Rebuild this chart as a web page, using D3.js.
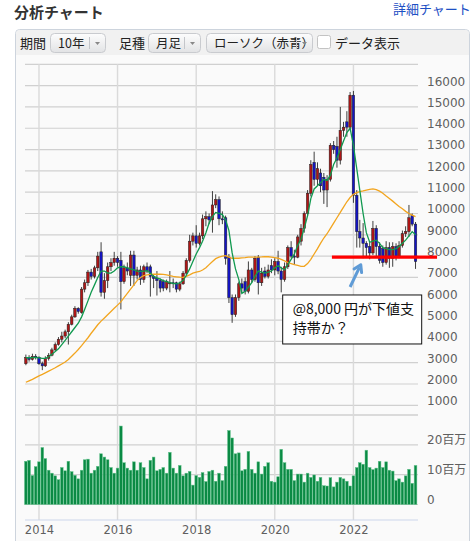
<!DOCTYPE html>
<html>
<head>
<meta charset="utf-8">
<script src="https://cdn.jsdelivr.net/npm/d3@7"></script>
<style>
  body { margin: 0; background: #fff; }
  svg { display: block; font-family: "Noto Sans CJK JP", "Noto Sans", sans-serif; }
</style>
</head>
<body>
<svg id="chart" width="473" height="541"></svg>
<script>
// monthly candles, Sep 2013 - Aug 2023
const months = [
  "2013-09","2013-10","2013-11","2013-12",
  "2014-01","2014-02","2014-03","2014-04","2014-05","2014-06","2014-07","2014-08","2014-09","2014-10","2014-11","2014-12",
  "2015-01","2015-02","2015-03","2015-04","2015-05","2015-06","2015-07","2015-08","2015-09","2015-10","2015-11","2015-12",
  "2016-01","2016-02","2016-03","2016-04","2016-05","2016-06","2016-07","2016-08","2016-09","2016-10","2016-11","2016-12",
  "2017-01","2017-02","2017-03","2017-04","2017-05","2017-06","2017-07","2017-08","2017-09","2017-10","2017-11","2017-12",
  "2018-01","2018-02","2018-03","2018-04","2018-05","2018-06","2018-07","2018-08","2018-09","2018-10","2018-11","2018-12",
  "2019-01","2019-02","2019-03","2019-04","2019-05","2019-06","2019-07","2019-08","2019-09","2019-10","2019-11","2019-12",
  "2020-01","2020-02","2020-03","2020-04","2020-05","2020-06","2020-07","2020-08","2020-09","2020-10","2020-11","2020-12",
  "2021-01","2021-02","2021-03","2021-04","2021-05","2021-06","2021-07","2021-08","2021-09","2021-10","2021-11","2021-12",
  "2022-01","2022-02","2022-03","2022-04","2022-05","2022-06","2022-07","2022-08","2022-09","2022-10","2022-11","2022-12",
  "2023-01","2023-02","2023-03","2023-04","2023-05","2023-06","2023-07","2023-08"
];

const openP = [
  2950,3250,3150,3300,
  3250,2950,2850,3200,3350,3600,3850,4100,4250,4450,4800,5150,
  5550,5350,6450,6750,7250,7050,7450,8200,6300,6850,7500,7700,
  7900,7800,6800,7450,7100,8050,7100,7350,6900,7500,7500,7050,
  6950,6850,6800,6500,6700,6750,6750,6450,6700,7200,7800,8700,
  8950,8600,8950,9750,9850,9700,10400,10650,9750,9800,7950,6050,
  5250,6050,6700,6800,6350,7350,6900,7950,6750,7300,7050,7550,
  7350,7750,7300,6900,7500,8400,8000,7950,8700,9300,10000,10950,
  12400,11600,11900,11700,11100,11600,13200,13150,12500,13900,14300,14050,
  15550,10850,9150,8850,8600,8450,8150,9300,8450,8350,7700,8400,
  7900,8450,8000,8500,9050,9150,9900,9500
];
const highP = [
  3380,3350,3420,3400,
  3300,3050,3300,3450,3700,3950,4200,4450,4550,4900,5250,5650,
  5600,6550,6900,7350,7400,7550,8200,8650,7200,7700,7900,8200,
  8000,8200,7600,7700,8250,8250,7500,7550,7600,7700,7600,7150,
  7300,6950,6900,6900,7300,6950,6800,6800,7300,7900,9000,9100,
  9450,9100,9950,10100,10000,11050,10900,10800,10100,9900,8100,6200,
  6200,6800,6950,7000,7750,7450,8000,8050,7450,7500,7600,7850,
  7900,8250,7500,7700,8500,8700,8300,9000,9500,10100,11100,12500,
  12900,12400,12100,11900,11800,13300,13400,13600,15000,14300,14800,15700,
  15750,11100,9700,9550,8700,8650,9650,9450,8650,8500,8700,8650,
  8650,8600,8700,9200,9400,10400,10000,9600
];
const lowP = [
  2880,3050,3100,3150,
  2900,2650,2800,3100,3300,3550,3800,3950,4150,3850,4750,5100,
  5300,5300,6300,6600,6900,6950,7300,6100,6000,6500,7300,7550,
  7500,5500,6700,7100,6600,6600,6900,6650,6750,7200,6100,6500,
  6150,6300,6350,6400,6300,6500,6300,6350,6650,7100,7700,8500,
  8400,8500,8800,9400,9500,9100,10250,9450,9500,7600,5800,4870,
  5150,5900,6300,6200,6250,6750,6800,6200,6600,6950,6950,7200,
  7100,7150,6300,6800,7400,7900,7600,7900,8500,9100,9900,10800,
  11300,11300,11000,10450,10300,11500,12800,12150,12300,13600,13600,13900,
  10500,8400,8400,7900,8000,7850,8050,8000,7650,7500,7600,7450,
  7500,7800,7900,8400,8900,8900,9400,7400
];
const closeP = [
  3250,3150,3300,3250,
  2950,2850,3200,3350,3600,3850,4100,4250,4450,4800,5150,5550,
  5400,6450,6750,7250,7050,7450,8000,6300,6850,7500,7700,7900,
  7700,6800,7450,7300,8050,7100,7350,6900,7500,7300,7050,6950,
  6850,6500,6500,6800,6750,6700,6450,6700,7200,7800,8700,8950,
  8600,8950,9750,9850,9700,10400,10650,9750,9700,7900,6050,5250,
  6050,6700,6500,6350,7350,6900,7900,6750,7200,7050,7350,7350,
  7750,7300,6900,7500,8400,8000,7950,8900,9300,10000,10950,12300,
  11600,12100,11300,11100,11600,13200,13000,12500,13900,14050,14050,15550,
  10850,9150,8850,8600,8400,8150,9300,8450,7800,7700,8400,7900,
  8450,8000,8500,9050,9150,9800,9500,7750
];
// volume in millions of shares (百万)
const volume = [
  14.5,14.8,9.7,12.7,
  14.3,19.1,15.4,11.5,10.5,9.6,8.3,12.4,11.3,14.5,11.0,9.8,
  8.6,11.5,15.0,15.2,10.5,11.5,12.8,17.0,15.9,15.0,12.4,10.5,
  12.2,26.3,14.0,12.2,11.5,14.3,11.5,14.0,12.4,8.6,14.8,15.9,
  11.3,11.8,12.4,10.5,17.5,12.2,10.5,13.1,9.6,10.5,11.1,6.5,
  9.7,9.1,10.7,7.7,11.1,11.5,7.8,10.5,8.0,12.8,24.8,22.3,
  17.0,17.3,11.3,11.8,17.8,11.8,10.5,14.3,10.2,12.8,14.0,7.8,
  7.5,9.3,18.5,14.0,11.8,11.8,8.0,10.2,10.2,7.5,10.5,9.1,
  9.9,7.8,9.1,6.3,6.2,9.0,5.9,7.5,9.1,8.6,7.8,6.2,
  9.6,12.4,14.0,13.5,18.2,12.4,11.7,12.2,14.5,12.4,14.3,11.5,
  11.2,8.0,8.6,7.5,9.6,11.8,7.1,13.1
];
// short moving average (green)
const maShort = [
  3230,3230,3240,3250,
  3230,3200,3200,3280,3400,3520,3650,3850,4050,4250,4450,4650,
  4850,5150,5500,5900,6300,6650,7000,7300,7300,7200,7200,7300,
  7450,7500,7500,7450,7400,7350,7300,7280,7300,7320,7200,7050,
  6980,6920,6850,6800,6760,6720,6700,6750,6850,7100,7400,7750,
  8100,8400,8700,9100,9550,9850,10050,10000,9950,9700,9200,8150,
  7400,6900,6250,6350,6550,6750,7050,7300,7250,7200,7250,7300,
  7450,7550,7450,7350,7600,7850,8100,8500,8800,9300,9900,10700,
  11150,11300,11450,11600,11550,11800,12300,12600,13000,13400,13800,14000,
  13200,12100,11100,10000,9100,8650,8700,8750,8600,8400,8350,8300,
  8300,8350,8450,8600,8750,8950,9150,9000
];
// long moving average (orange)
const maLong = [
  2080,2150,2220,2300,
  2380,2450,2520,2600,2680,2760,2850,2940,3030,3150,3300,3450,
  3620,3800,3980,4170,4380,4580,4780,4950,5100,5250,5400,5550,
  5700,5850,6050,6250,6450,6650,6850,7000,7080,7120,7140,7150,
  7150,7150,7140,7120,7080,7050,7030,7010,7000,7050,7120,7200,
  7250,7280,7350,7450,7600,7750,7880,7950,8000,8020,7950,7900,
  7900,7900,7920,7930,7950,7950,7950,7950,7960,7980,7970,7950,
  7930,7900,7850,7780,7700,7650,7600,7560,7520,7520,7650,7850,
  8100,8350,8600,8850,9050,9300,9550,9800,10050,10300,10550,10750,
  10900,10980,11030,11060,11100,11130,11150,11120,11050,10950,10820,10700,
  10580,10450,10330,10220,10100,10000,9920,9850
];

const priceGrid = [1000,2000,3000,4000,5000,6000,7000,8000,9000,10000,11000,12000,13000,14000,15000,16000,17000];
const priceLabels = [1000,2000,3000,4000,5000,6000,7000,8000,9000,10000,11000,12000,13000,14000,15000,16000];
const volGrid = [0,10,20,30];
const volLabels = [0,10,20];
const volLabelText = ["0","10百万","20百万"];
const yearTicks = ["2014","2016","2018","2020","2022"];

// annotation: support line and callout
const supportPrice = 7950;
const supportFrom = "2021-06-15", supportTo = "2024-02-17";
const arrowFrom = { date: "2021-12-01", price: 6550 };
const arrowTo = { date: "2022-03-10", price: 7600 };
const calloutAt = { date: "2020-03-10", price: 6200 };
const calloutLines = ["@8,000 円が下値支", "持帯か？"];

const svg = d3.select('#chart');
const parseM = d3.timeParse('%Y-%m');
const parseD = d3.timeParse('%Y-%m-%d');

const data = months.map((m, i) => ({
  date: parseM(m), o: openP[i], h: highP[i], l: lowP[i], c: closeP[i],
  v: volume[i], ms: maShort[i], ml: maLong[i]
}));

const margin = { left: 25, right: 418, top: 64.3 };
const priceBottom = 415, axisY = 520;

const x = d3.scaleTime()
  .domain([parseD("2013-08-24"), parseD("2023-08-24")])
  .range([margin.left, margin.right]);
const yP = d3.scaleLinear().domain([1000, 17000]).range([405.3, margin.top]);
const yV = d3.scaleLinear().domain([0, 30]).range([504.5, priceBottom]);

// ---------- header ----------
svg.append('text')
  .attr('x', 14).attr('y', 17.5)
  .attr('font-size', 15).attr('font-weight', 'bold').attr('fill', '#333')
  .text('分析チャート');

svg.append('text')
  .attr('x', 393).attr('y', 14)
  .attr('font-size', 13).attr('fill', '#1d4fc4')
  .text('詳細チャート');

// ---------- panel ----------
const defs = svg.append('defs');
const grad = defs.append('linearGradient').attr('id', 'btn').attr('x1', 0).attr('y1', 0).attr('x2', 0).attr('y2', 1);
grad.append('stop').attr('offset', '0%').attr('stop-color', '#fdfdfd');
grad.append('stop').attr('offset', '100%').attr('stop-color', '#e2e3e5');

svg.append('rect')
  .attr('x', 15.5).attr('y', 29.5).attr('width', 454).attr('height', 530).attr('rx', 4)
  .attr('fill', '#fafafa').attr('stroke', '#cdd4dd');
svg.append('path')
  .attr('d', 'M16,55 L16,34 Q16,30 20,30 L465,30 Q469,30 469,34 L469,55 Z')
  .attr('fill', '#f1f1f1');

const tb = svg.append('g').attr('font-size', 13).attr('fill', '#222');
tb.append('text').attr('x', 20).attr('y', 47.5).text('期間');
tb.append('text').attr('x', 119).attr('y', 47.5).text('足種');

const buttons = [
  { x: 50, w: 55, label: '10年' },
  { x: 148, w: 52, label: '月足' },
  { x: 206, w: 106, label: 'ローソク（赤青）' }
];
buttons.forEach(b => {
  const g = svg.append('g');
  g.append('rect').attr('x', b.x + 0.5).attr('y', 33.5).attr('width', b.w).attr('height', 19).attr('rx', 4)
    .attr('fill', 'url(#btn)').attr('stroke', '#c9cbcf');
  g.append('text').attr('x', b.x + 8).attr('y', 47.5).attr('font-size', 12.5).attr('fill', '#222').text(b.label);
  g.append('line').attr('x1', b.x + b.w - 15.5).attr('x2', b.x + b.w - 15.5).attr('y1', 37).attr('y2', 49)
    .attr('stroke', '#c4c6ca');
  g.append('path')
    .attr('d', `M${b.x + b.w - 10},42 l5,0 l-2.5,3 z`)
    .attr('fill', '#888');
});
svg.append('rect').attr('x', 317.5).attr('y', 35.5).attr('width', 13).attr('height', 13).attr('rx', 2)
  .attr('fill', '#fff').attr('stroke', '#c3c3c3');
tb.append('text').attr('x', 335).attr('y', 47.5).text('データ表示');

// ---------- grid ----------
const grid = svg.append('g');
grid.selectAll('.pgrid').data(priceGrid).enter().append('line')
  .attr('class', 'pgrid')
  .attr('x1', margin.left).attr('x2', margin.right)
  .attr('y1', d => yP(d)).attr('y2', d => yP(d))
  .attr('stroke', '#d0d0d0').attr('stroke-width', 1.2);
grid.append('line')
  .attr('x1', margin.left).attr('x2', margin.right)
  .attr('y1', priceBottom).attr('y2', priceBottom)
  .attr('stroke', '#d0d0d0').attr('stroke-width', 1.2);
grid.selectAll('.vgrid').data(volGrid).enter().append('line')
  .attr('class', 'vgrid')
  .attr('x1', margin.left).attr('x2', margin.right)
  .attr('y1', d => yV(d)).attr('y2', d => yV(d))
  .attr('stroke', '#d0d0d0').attr('stroke-width', 1.2);
grid.selectAll('.xgrid').data(yearTicks).enter().append('line')
  .attr('class', 'xgrid')
  .attr('x1', d => x(parseM(d + '-01'))).attr('x2', d => x(parseM(d + '-01')))
  .attr('y1', margin.top).attr('y2', axisY)
  .attr('stroke', '#dadada').attr('stroke-width', 1.4);
grid.append('line')
  .attr('x1', margin.left).attr('x2', margin.right)
  .attr('y1', axisY).attr('y2', axisY)
  .attr('stroke', '#ccd6eb').attr('stroke-width', 1);

// ---------- axes labels ----------
const yAxisG = svg.append('g').attr('transform', `translate(${margin.right},0)`)
  .call(d3.axisRight(yP).tickValues(priceLabels).tickSize(0).tickPadding(9).tickFormat(d3.format('d')));
yAxisG.select('.domain').remove();
yAxisG.selectAll('text')
  .attr('dy', '-0.05em').attr('font-size', 12).attr('font-family', 'DejaVu Sans').attr('fill', '#5f5f5f');

const vAxisG = svg.append('g').attr('transform', `translate(${margin.right},0)`)
  .call(d3.axisRight(yV).tickValues(volLabels).tickSize(0).tickPadding(9)
    .tickFormat((d, i) => volLabelText[i]));
vAxisG.select('.domain').remove();
vAxisG.selectAll('text')
  .attr('dy', '-0.1em').attr('font-size', 12).attr('font-family', 'DejaVu Sans, Noto Sans CJK JP').attr('fill', '#5f5f5f');

const xAxisG = svg.append('g').attr('transform', `translate(0,${axisY})`)
  .call(d3.axisBottom(x).tickValues(yearTicks.map(d => parseM(d + '-01'))).tickSize(0).tickPadding(6)
    .tickFormat(d3.timeFormat('%Y')));
xAxisG.select('.domain').remove();
xAxisG.selectAll('text')
  .attr('font-size', 11.5).attr('font-family', 'DejaVu Sans').attr('fill', '#5f5f5f');

// ---------- volume ----------
const barW = 2.7;
svg.append('g').selectAll('rect').data(data).enter().append('rect')
  .attr('x', d => x(d.date) - barW / 2)
  .attr('y', d => yV(d.v))
  .attr('width', barW)
  .attr('height', d => yV(0) - yV(d.v))
  .attr('fill', '#0a8a44')
  .attr('stroke', '#62c28c').attr('stroke-width', 0.5);

// ---------- candles ----------
const candleW = 2.5;
const candles = svg.append('g').selectAll('g').data(data).enter().append('g');
candles.append('line')
  .attr('x1', d => x(d.date)).attr('x2', d => x(d.date))
  .attr('y1', d => yP(d.h)).attr('y2', d => yP(d.l))
  .attr('stroke', '#2a2a2a').attr('stroke-width', 0.9);
candles.append('rect')
  .attr('x', d => x(d.date) - candleW / 2)
  .attr('y', d => yP(Math.max(d.o, d.c)))
  .attr('width', candleW)
  .attr('height', d => Math.max(1, Math.abs(yP(d.o) - yP(d.c))))
  .attr('fill', d => d.c >= d.o ? '#b01515' : '#1414c4')
  .attr('stroke', '#222').attr('stroke-width', 0.5);

// ---------- moving averages ----------
const lineShort = d3.line().x(d => x(d.date)).y(d => yP(d.ms));
const lineLong = d3.line().x(d => x(d.date)).y(d => yP(d.ml));
svg.append('path').datum(data).attr('d', lineLong)
  .attr('fill', 'none').attr('stroke', '#f2a51f').attr('stroke-width', 1.3);
svg.append('path').datum(data).attr('d', lineShort)
  .attr('fill', 'none').attr('stroke', '#10994f').attr('stroke-width', 1.3);

// ---------- annotation ----------
svg.append('line')
  .attr('x1', x(parseD(supportFrom))).attr('x2', x(parseD(supportTo)))
  .attr('y1', yP(supportPrice)).attr('y2', yP(supportPrice))
  .attr('stroke', '#ff0000').attr('stroke-width', 3.3);

const ax1 = x(parseD(arrowFrom.date)), ay1 = yP(arrowFrom.price);
const ax2 = x(parseD(arrowTo.date)), ay2 = yP(arrowTo.price);
const ang = Math.atan2(ay2 - ay1, ax2 - ax1);
svg.append('line')
  .attr('x1', ax1).attr('y1', ay1).attr('x2', ax2 - 3 * Math.cos(ang)).attr('y2', ay2 - 3 * Math.sin(ang))
  .attr('stroke', '#5f9bd6').attr('stroke-width', 3);
const hl = 8;
svg.append('path')
  .attr('d', `M${ax2 - hl * Math.cos(ang - 0.55)},${ay2 - hl * Math.sin(ang - 0.55)} L${ax2},${ay2} L${ax2 - hl * Math.cos(ang + 0.55)},${ay2 - hl * Math.sin(ang + 0.55)}`)
  .attr('fill', 'none').attr('stroke', '#5f9bd6').attr('stroke-width', 3)
  .attr('stroke-linejoin', 'round').attr('stroke-linecap', 'round');

const bx = x(parseD(calloutAt.date)), by = yP(calloutAt.price);
const callout = svg.append('g');
callout.append('rect')
  .attr('x', bx + 0.5).attr('y', by + 0.5).attr('width', 139).attr('height', 49)
  .attr('fill', '#fff').attr('stroke', '#111').attr('stroke-width', 1);
callout.selectAll('text').data(calloutLines).enter().append('text')
  .attr('x', bx + 10.5).attr('y', (d, i) => by + 20 + i * 19)
  .attr('font-size', 14).attr('fill', '#111')
  .text(d => d);
</script>
</body>
</html>
